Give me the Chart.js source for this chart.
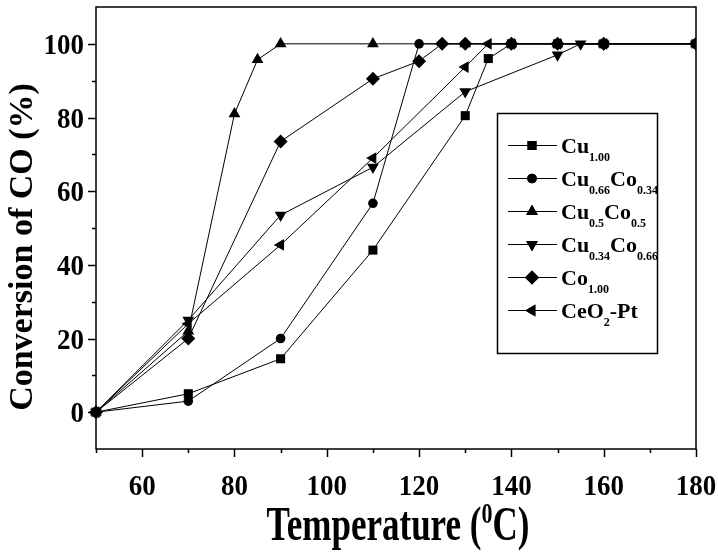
<!DOCTYPE html>
<html>
<head>
<meta charset="utf-8">
<script src="https://cdn.jsdelivr.net/npm/chart.js@4"></script>
<style>
  html, body { margin: 0; padding: 0; background: #fff; }
</style>
</head>
<body>
<canvas id="grafico" width="718" height="558"></canvas>
<script>
// temperatures (C) and CO conversion (%) for each catalyst
const cu100T = [50, 70, 90, 110, 130, 135, 140, 150, 160, 180];
const cu100Y = [0, 5, 14.5, 44, 80.5, 96, 100, 100, 100, 100];
const cu66T = [50, 70, 90, 110, 120, 140, 150, 160, 180];
const cu66Y = [0, 3, 20, 56.7, 100, 100, 100, 100, 100];
const cu50T = [50, 70, 80, 85, 90, 110, 130, 140, 150, 160, 180];
const cu50Y = [0, 22, 81, 95.7, 100, 100, 100, 100, 100, 100, 100];
const cu34T = [50, 70, 90, 110, 130, 150, 155, 160, 180];
const cu34Y = [0, 25, 53.5, 66.5, 87, 97, 100, 100, 100];
const co100T = [50, 70, 90, 110, 120, 125, 130, 140, 150, 160, 180];
const co100Y = [0, 20, 73.5, 90.5, 95.3, 100, 100, 100, 100, 100, 100];
const ceptT = [50, 70, 90, 110, 130, 135, 140, 150, 160, 180];
const ceptY = [0, 24, 45.4, 69, 93.7, 100, 100, 100, 100, 100];

const xTicks = [60, 80, 100, 120, 140, 160, 180];
const yTicks = [0, 20, 40, 60, 80, 100];

// legend labels as [main, subscript] pairs
const nombres = [
    [['Cu', '1.00']],
    [['Cu', '0.66'], ['Co', '0.34']],
    [['Cu', '0.5'], ['Co', '0.5']],
    [['Cu', '0.34'], ['Co', '0.66']],
    [['Co', '1.00']],
    [['CeO', '2'], ['-Pt', '']]
];

const SERIF = "'Liberation Serif', 'Times New Roman', serif";

const pares = (xs, ys) => xs.map((x, i) => ({ x: x, y: ys[i] }));

const serie = (xs, ys, estilo, radio, rot) => ({
    data: pares(xs, ys),
    borderColor: '#000',
    borderWidth: 1,
    backgroundColor: '#000',
    pointBackgroundColor: '#000',
    pointBorderColor: '#000',
    pointBorderWidth: 0,
    pointStyle: estilo,
    pointRadius: radio,
    pointRotation: rot,
    tension: 0,
    clip: { left: 8, top: 8, right: 0, bottom: 8 }
});

const datasets = [
    serie(cu100T, cu100Y, 'rect', 6.4, 0),
    serie(cu66T, cu66Y, 'circle', 4.8, 0),
    serie(cu50T, cu50Y, 'triangle', 6.8, 0),
    serie(cu34T, cu34Y, 'triangle', 6.8, 180),
    serie(co100T, co100Y, 'rectRot', 7, 0),
    serie(ceptT, ceptY, 'triangle', 6.8, 270)
];

// text drawn with a vertical stretch like the original figure
function texto(ctx, s, x, y, sy) {
    ctx.save();
    ctx.translate(x, y);
    ctx.scale(1, sy);
    ctx.fillText(s, 0, 0);
    ctx.restore();
}

// ticks, labels, frame, axis titles and legend box
const extras = {
    id: 'extras',
    afterDraw(chart) {
        const ctx = chart.ctx;
        const a = chart.chartArea;
        const sx = chart.scales.x;
        const sy = chart.scales.y;
        ctx.save();
        ctx.strokeStyle = '#000';
        ctx.fillStyle = '#000';
        ctx.lineWidth = 1.5;
        ctx.strokeRect(a.left, a.top, a.right - a.left, a.bottom - a.top);

        for (let v = 0; v <= 100; v += 10) {
            const y = Math.round(sy.getPixelForValue(v)) + 0.5;
            const len = v % 20 === 0 ? 8 : 4;
            ctx.beginPath();
            ctx.moveTo(a.left - len, y);
            ctx.lineTo(a.left, y);
            ctx.stroke();
        }
        for (let v = 50; v <= 180; v += 10) {
            const x = Math.round(sx.getPixelForValue(v)) + 0.5;
            const len = v % 20 === 0 ? 8 : 4;
            ctx.beginPath();
            ctx.moveTo(x, a.bottom);
            ctx.lineTo(x, a.bottom + len);
            ctx.stroke();
        }

        // tick labels
        ctx.font = 'bold 27px ' + SERIF;
        ctx.textBaseline = 'alphabetic';
        ctx.textAlign = 'right';
        yTicks.forEach(v => {
            texto(ctx, String(v), 84, sy.getPixelForValue(v) + 10, 1.08);
        });
        ctx.textAlign = 'center';
        xTicks.forEach(v => {
            texto(ctx, String(v), sx.getPixelForValue(v), 495, 1.12);
        });

        // y title
        ctx.save();
        ctx.translate(32, 247);
        ctx.rotate(-Math.PI / 2);
        ctx.font = 'bold 34px ' + SERIF;
        ctx.textAlign = 'center';
        ctx.fillText('Conversion of CO (%)', 0, 0);
        ctx.restore();

        // x title with superscript
        const big = 'bold 35px ' + SERIF;
        const sup = 'bold 22px ' + SERIF;
        const est = 1.38;
        ctx.textAlign = 'left';
        ctx.font = big;
        const w1 = ctx.measureText('Temperature (').width;
        const w3 = ctx.measureText('C)').width;
        ctx.font = sup;
        const w2 = ctx.measureText('0').width;
        let xt = 398 - (w1 + w2 + w3) / 2;
        const yb = 540;
        ctx.font = big;
        texto(ctx, 'Temperature (', xt, yb, est);
        xt += w1;
        ctx.font = sup;
        texto(ctx, '0', xt, yb - 17, est);
        xt += w2;
        ctx.font = big;
        texto(ctx, 'C)', xt, yb, est);

        // legend
        ctx.lineWidth = 1.5;
        ctx.strokeRect(497.5, 113.5, 160, 240);
        const ys = [145, 178, 211, 244, 277, 310];
        chart.data.datasets.forEach((ds, i) => {
            const y = ys[i];
            ctx.lineWidth = 1;
            ctx.beginPath();
            ctx.moveTo(508, y + 0.5);
            ctx.lineTo(557, y + 0.5);
            ctx.stroke();
            Chart.helpers.drawPoint(ctx, {
                pointStyle: ds.pointStyle,
                rotation: ds.pointRotation,
                radius: ds.pointRadius,
                borderWidth: 0
            }, 532, y + 0.5);
            ctx.fill();
            let xx = 561;
            nombres[i].forEach(p => {
                ctx.font = 'bold 22px ' + SERIF;
                ctx.fillText(p[0], xx, y + 8);
                xx += ctx.measureText(p[0]).width;
                ctx.font = 'bold 12px ' + SERIF;
                ctx.fillText(p[1], xx, y + 16);
                xx += ctx.measureText(p[1]).width;
            });
        });
        ctx.restore();
    }
};

const config = {
    type: 'line',
    data: { datasets: datasets },
    options: {
        responsive: false,
        animation: false,
        layout: { padding: { top: 3, right: 22, left: 0, bottom: 0 } },
        plugins: {
            legend: { display: false },
            tooltip: { enabled: false }
        },
        scales: {
            x: {
                type: 'linear',
                min: 50,
                max: 180,
                afterBuildTicks: s => { s.ticks = xTicks.map(v => ({ value: v })); },
                afterFit: s => { s.height = 109; },
                grid: { display: false, drawTicks: false },
                border: { display: false },
                ticks: { display: false }
            },
            y: {
                min: -10,
                max: 110,
                afterBuildTicks: s => { s.ticks = yTicks.map(v => ({ value: v })); },
                afterFit: s => { s.width = 96; },
                grid: { display: false, drawTicks: false },
                border: { display: false },
                ticks: { display: false }
            }
        }
    },
    plugins: [extras]
};

const myChart = new Chart(document.getElementById('grafico'), config);
</script>
</body>
</html>
